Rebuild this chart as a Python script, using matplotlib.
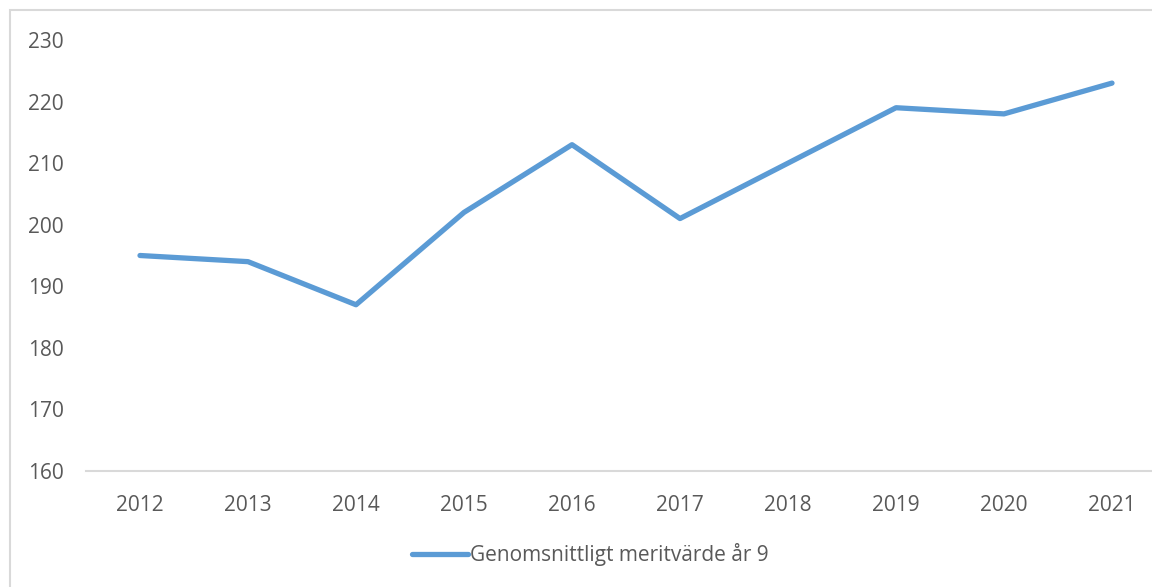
import matplotlib
matplotlib.use("Agg")
import matplotlib.pyplot as plt
from matplotlib.patches import Rectangle

years = ["2012", "2013", "2014", "2015", "2016", "2017", "2018", "2019", "2020", "2021"]
merit = [195, 194, 187, 202, 213, 201, 210, 219, 218, 223]
series_label = "Genomsnittligt meritvärde år 9"
yticks = [160, 170, 180, 190, 200, 210, 220, 230]

plt.rcParams['font.family'] = ['Open Sans', 'DejaVu Sans']
txt = '#595959'
grid = '#D9D9D9'
blue = '#5B9BD5'
fs = 15

W, H = 1152, 587
fig = plt.figure(figsize=(W / 100, H / 100), dpi=100)
fig.patch.set_facecolor('white')

# outer chart-area border (extends past right/bottom edges)
fig.patches.append(Rectangle((10 / W, -0.2), 1.2, 1.2 - 10 / H,
                             transform=fig.transFigure, fill=False,
                             edgecolor=grid, linewidth=1.5))

ax = fig.add_axes([86 / W, (H - 471) / H, 1080 / W, 431 / H])
x = list(range(len(years)))
ax.plot(x, merit, color=blue, linewidth=3.8, solid_capstyle='round',
        solid_joinstyle='round', label=series_label)
ax.set_xlim(-0.5, len(years) - 0.5)
ax.set_ylim(160, 230)
ax.set_yticks(yticks)
ax.set_xticks(x)
ax.set_xticklabels(years)
for s in ['top', 'right', 'left']:
    ax.spines[s].set_visible(False)
ax.spines['bottom'].set_color(grid)
ax.spines['bottom'].set_linewidth(1.5)
ax.tick_params(axis='both', length=0, colors=txt, labelsize=fs)
ax.tick_params(axis='y', pad=16)
ax.tick_params(axis='x', pad=17)
ax.set_facecolor('none')

h, l = ax.get_legend_handles_labels()
fig.legend(h, l, loc='center', bbox_to_anchor=(590 / W, 1 - 555 / H),
           frameon=False, fontsize=fs, handlelength=2.7, handletextpad=0.1,
           labelcolor=txt)

fig.savefig('out.png', dpi=100, facecolor='white')
